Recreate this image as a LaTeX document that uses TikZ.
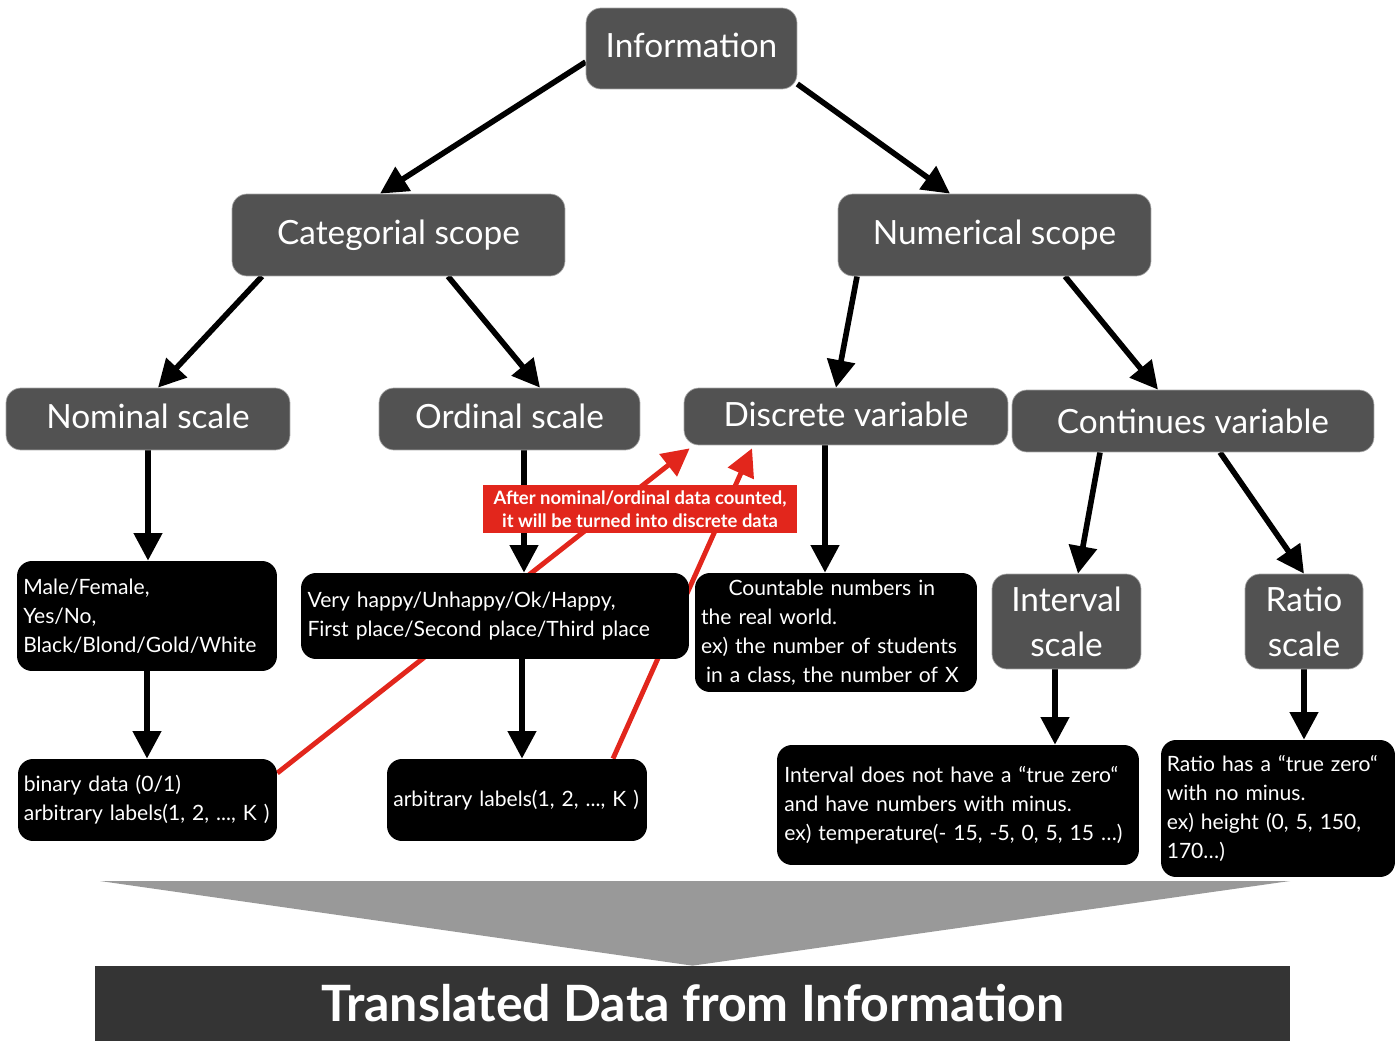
\documentclass[tikz,border=0pt]{standalone}
\usepackage{fontspec}
\setmainfont{Lato}
\setsansfont{Lato}
\usepackage{xcolor}
\usepackage{tikz}
\usetikzlibrary{arrows.meta,positioning,calc,backgrounds}

\definecolor{boxgray}{RGB}{82,82,82}
\definecolor{notered}{RGB}{226,38,28}
\definecolor{wedgegray}{RGB}{153,153,153}
\definecolor{bargray}{RGB}{52,52,52}

\begin{document}
\begin{tikzpicture}[
    x=0.02cm, y=-0.02cm,
    font=\sffamily,
    gbox/.style={rectangle, rounded corners=0.3cm, draw=gray!70, fill=boxgray, text=white, align=center, inner sep=0pt, font=\sffamily\fontsize{19}{25.5}\selectfont},
    bbox/.style={rectangle, rounded corners=0.3cm, fill=black, text=white, align=left, inner sep=0pt, font=\sffamily\fontsize{12}{16.5}\selectfont},
    arrow/.style={-{Triangle[length=0.55cm, width=0.55cm]}, line width=3.2pt, black},
    redarrow/.style={-{Triangle[length=0.55cm, width=0.55cm]}, line width=2.8pt, notered},
    note/.style={rectangle, fill=notered, text=white, align=center, inner sep=0pt, font=\sffamily\bfseries\fontsize{10.5}{13}\selectfont}
]
    \useasboundingbox (0,0) rectangle (1400,1051);

    % --- Top levels ---
    \node[gbox, minimum width=4.22cm, minimum height=1.62cm] (info) at (691.5,48.5) {\raisebox{0.12cm}{Information}};
    \node[gbox, minimum width=6.66cm, minimum height=1.64cm] (cat) at (398.5,235) {\raisebox{0.12cm}{Categorial scope}};
    \node[gbox, minimum width=6.26cm, minimum height=1.64cm] (num) at (994.5,235) {\raisebox{0.12cm}{Numerical scope}};

    % --- Scales / variables ---
    \node[gbox, minimum width=5.68cm, minimum height=1.24cm] (nom) at (148,419) {\raisebox{0.1cm}{Nominal scale}};
    \node[gbox, minimum width=5.22cm, minimum height=1.24cm] (ord) at (509.5,419) {\raisebox{0.1cm}{Ordinal scale}};
    \node[gbox, minimum width=6.48cm, minimum height=1.14cm] (disc) at (846,416.5) {\raisebox{0.1cm}{Discrete variable}};
    \node[gbox, minimum width=7.24cm, minimum height=1.24cm] (cont) at (1193,421) {Continues variable};
    \node[gbox, minimum width=2.98cm, minimum height=1.9cm] (intsc) at (1066.5,621.5) {Interval\\scale};
    \node[gbox, minimum width=2.36cm, minimum height=1.9cm] (ratsc) at (1304,621.5) {Ratio\\scale};

    % --- Examples ---
    \node[bbox, minimum width=5.2cm, minimum height=2.2cm, text width=4.95cm] (male) at (147,616) {Male/Female,\\Yes/No,\\Black/Blond/Gold/White};
    \node[bbox, minimum width=7.76cm, minimum height=1.72cm, text width=7.5cm] (happy) at (495,616) {Very happy/Unhappy/Ok/Happy,\\First place/Second place/Third place};
    \node[bbox, minimum width=5.64cm, minimum height=2.38cm, text width=5.4cm] (count) at (836,632.5) {\hspace*{0.55cm}Countable numbers in\\the real world.\\ex) the number of students\\\hspace*{0.1cm}in a class, the number of X};
    \node[bbox, minimum width=5.18cm, minimum height=1.64cm, text width=4.95cm] (binary) at (147.5,800) {binary data (0/1)\\arbitrary labels(1, 2, ..., K )};
    \node[bbox, minimum width=5.2cm, minimum height=1.64cm, text width=4.95cm] (arb) at (517,800) {arbitrary labels(1, 2, ..., K )};
    \node[bbox, minimum width=7.24cm, minimum height=2.4cm, text width=6.95cm] (intbox) at (958,805) {Interval does not have a “true zero“\\and have numbers with minus.\\ex) temperature(- 15, -5, 0, 5, 15 \dots)};
    \node[bbox, minimum width=4.68cm, minimum height=2.74cm, text width=4.45cm] (ratbox) at (1278,808.5) {Ratio has a “true zero“\\with no minus.\\ex) height (0, 5, 150,\\170\dots)};

    % --- Tree arrows ---
    \begin{scope}[on background layer]
    \draw[arrow] ([yshift=-0.27cm]info.west) -- ([xshift=-0.37cm]cat.north);
    \draw[arrow] ([yshift=-0.71cm]info.east) -- ([xshift=-0.89cm]num.north);
    \draw[arrow] ([xshift=-2.73cm]cat.south) -- ([xshift=0.2cm]nom.north);
    \draw[arrow] ([xshift=0.99cm]cat.south) -- ([xshift=0.61cm]ord.north);
    \draw[arrow] ([xshift=-2.75cm]num.south) -- ([xshift=-0.2cm]disc.north);
    \draw[arrow] ([xshift=1.41cm]num.south) -- ([xshift=-0.7cm]cont.north);
    \draw[arrow] (nom.south) -- (nom.south |- male.north);
    \draw[arrow] ([xshift=0.29cm]ord.south) -- ([xshift=0.29cm]ord.south |- happy.north);
    \draw[arrow] ([xshift=-0.42cm]disc.south) -- ([xshift=-0.42cm]disc.south |- count.north);
    \draw[arrow] ([xshift=-1.86cm]cont.south) -- ([xshift=0.23cm]intsc.north);
    \draw[arrow] ([xshift=0.54cm]cont.south) -- (ratsc.north);
    \draw[arrow] (male.south) -- (male.south |- binary.north);
    \draw[arrow] ([xshift=0.54cm]happy.south) -- ([xshift=0.54cm]happy.south |- arb.north);
    \draw[arrow] ([xshift=-0.23cm]intsc.south) -- ([xshift=-0.23cm]intsc.south |- intbox.north);
    \draw[arrow] (ratsc.south) -- (ratsc.south |- ratbox.north);

    % --- Counted data becomes discrete ---
    \draw[redarrow] ([yshift=0.54cm]binary.east) -- ([xshift=0.12cm,yshift=-0.06cm]disc.south west);
    \draw[redarrow] ([xshift=1.92cm]arb.north) -- ([xshift=-1.88cm,yshift=-0.06cm]disc.south);
    \end{scope}
    \node[note, minimum width=6.28cm, minimum height=0.96cm] (countnote) at (640,509) {After nominal/ordinal data counted,\\it will be turned into discrete data};

    % --- Result ---
    \node[rectangle, fill=bargray, minimum width=23.9cm, minimum height=1.5cm, text=white, font=\sffamily\bfseries\fontsize{28.5}{32}\selectfont] (bar) at (692.5,1003.5) {Translated Data from Information};
    \fill[wedgegray] (100,881) -- (1290,881) -- (bar.north) -- cycle;

\end{tikzpicture}
\end{document}
